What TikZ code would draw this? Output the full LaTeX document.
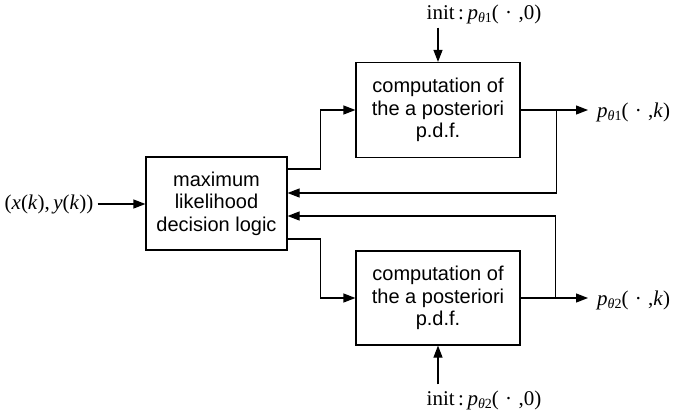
\documentclass[tikz,border=0pt]{standalone}
\usepackage{fontspec}
\setmainfont{Liberation Serif}
\newfontfamily\sansf{Liberation Sans}
\usetikzlibrary{arrows.meta,calc}
\newcommand{\mysub}[1]{\raisebox{-0.35ex}{\fontsize{14}{14}\selectfont #1}}
\newcommand{\mydot}{\hspace{0.3em}·\hspace{0.3em}}
\begin{document}
\begin{tikzpicture}[x=1pt,y=-1pt,
  box/.style={draw,line width=1.2pt,font=\sansf\fontsize{20}{22.5}\selectfont,align=center,inner sep=0pt},
  arr/.style={line width=1.2pt,-{Triangle[length=12pt,width=9pt]}},
  lbl/.style={font=\fontsize{21}{23}\selectfont,inner sep=0pt}]
\useasboundingbox (0,0) rectangle (676,415);
\node[box,minimum width=141pt,minimum height=93pt] (L) at (216.5,203.5) {maximum\\likelihood\\decision logic};
\node[box,minimum width=164pt,minimum height=95pt] (T) at (438,110) {computation of\\the a posteriori\\p.d.f.};
\node[box,minimum width=164pt,minimum height=94pt] (B) at (438,298) {computation of\\the a posteriori\\p.d.f.};
\node[lbl] (in) at (49,204) {(\textit{x}(\textit{k}),\,\textit{y}(\textit{k}))};
\node[lbl,inner ysep=4pt] (i1) at (484,14) {init\,:\,\textit{p}\mysub{\textit{θ}1}(\mydot,0)};
\node[lbl,inner ysep=6pt] (i2) at (484,400) {init\,:\,\textit{p}\mysub{\textit{θ}2}(\mydot,0)};
\node[lbl,anchor=west] (o1) at (597,112) {\textit{p}\mysub{\textit{θ}1}(\mydot,\textit{k})};
\node[lbl,anchor=west] (o2) at (597,300) {\textit{p}\mysub{\textit{θ}2}(\mydot,\textit{k})};
\coordinate (j1) at ($(T.east)+(36,0)$);
\coordinate (j2) at ($(B.east)+(35,0)$);
\draw[arr] ([xshift=4pt]in.east) -- (in.east -| L.west);
\draw[arr] ([yshift=34.5pt]L.east) -- ++(33,0) |- (T.west);
\draw[arr] ([yshift=-35.5pt]L.east) -- ++(33,0) |- (B.west);
\draw[arr] (T.east) -- ([xshift=-9pt]o1.west |- T.east);
\draw[arr] (B.east) -- ([xshift=-9pt]o2.west |- B.east);
\draw[arr] (j1) |- ([yshift=10.5pt]L.east);
\draw[arr] (j2) |- ([yshift=-12.5pt]L.east);
\draw[arr] (i1.south -| T.north) -- (T.north);
\draw[arr] (i2.north -| B.south) -- (B.south);
\end{tikzpicture}
\end{document}
